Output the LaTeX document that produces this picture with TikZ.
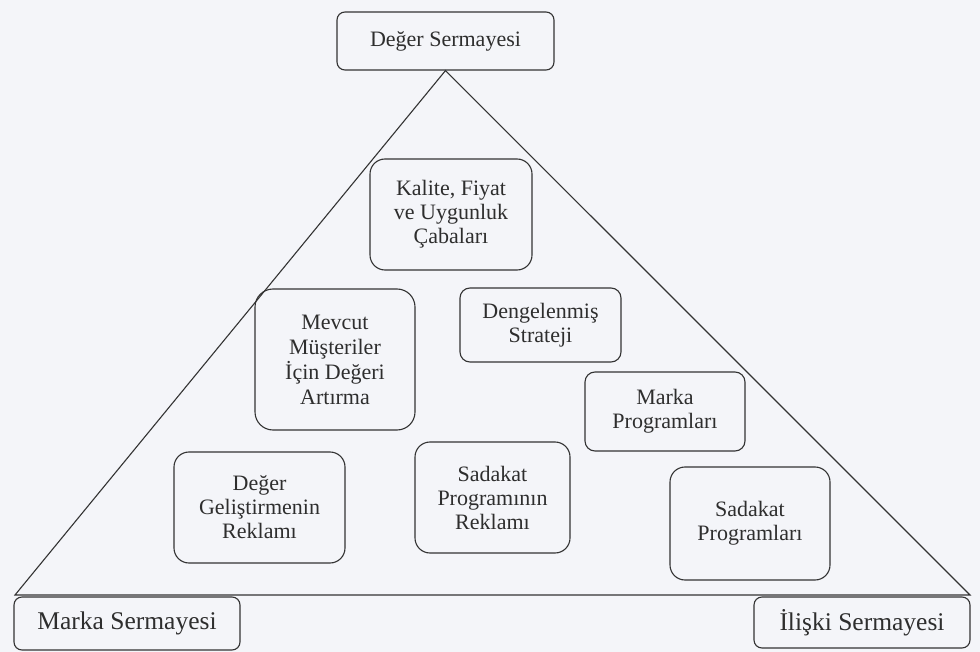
\documentclass[tikz,border=0pt]{standalone}
\usepackage{fontspec}
\setmainfont{Liberation Serif}
\begin{document}
\begin{tikzpicture}[x=1pt,y=-1pt,
  box/.style={draw=black!80, line width=1.1pt, align=center, inner sep=0pt,
    text=black!82, font=\fontsize{22}{24}\selectfont},
  capbox/.style={box, rounded corners=8pt, font=\fontsize{25.5}{27}\selectfont},
  soft/.style={box, rounded corners=15pt},
  firm/.style={box, rounded corners=10pt}]
  % paper background
  \fill[fill={rgb,255:red,244;green,245;blue,249}] (0,0) rectangle (980,652);
  \useasboundingbox (0,0) rectangle (980,652);

  % top and corner capital boxes
  \node[box, rounded corners=8pt, minimum width=217pt, minimum height=58pt]
    (deger) at (445.5,41) {Değer Sermayesi};
  \node[capbox, minimum width=226pt, minimum height=53pt]
    (marka) at (127,623.5) {Marka Sermayesi};
  \node[capbox, minimum width=216pt, minimum height=51pt]
    (iliski) at (862,622.5) {İlişki Sermayesi};

  % the triangle linking the three capitals
  \coordinate (baseL) at (15,595);
  \coordinate (baseR) at (970,595);
  \draw[line width=1.1pt, draw=black!80] (deger.south) -- (baseL) -- (baseR) -- cycle;

  % strategy boxes inside the triangle
  \node[soft, minimum width=162pt, minimum height=111pt]
    (kalite) at (451,214.5) {Kalite, Fiyat\\ve Uygunluk\\Çabaları};
  \node[soft, rounded corners=18pt, minimum width=160pt, minimum height=141pt,
    font=\fontsize{22}{25}\selectfont]
    (mevcut) at (335,359.5) {Mevcut\\Müşteriler\\İçin Değeri\\Artırma};
  \node[firm, minimum width=161pt, minimum height=74pt]
    (denge) at (540.5,325) {Dengelenmiş\\Strateji};
  \node[firm, minimum width=160pt, minimum height=79pt]
    (mprog) at (665,411.5) {Marka\\Programları};
  \node[soft, minimum width=160pt, minimum height=113pt]
    (sprog) at (750,523.5) {Sadakat\\Programları};
  \node[soft, minimum width=171pt, minimum height=111pt]
    (dgel) at (259.5,507.5) {Değer\\Geliştirmenin\\Reklamı};
  \node[soft, minimum width=155pt, minimum height=111pt]
    (sadrek) at (492.5,497.5) {Sadakat\\Programının\\Reklamı};
\end{tikzpicture}
\end{document}
